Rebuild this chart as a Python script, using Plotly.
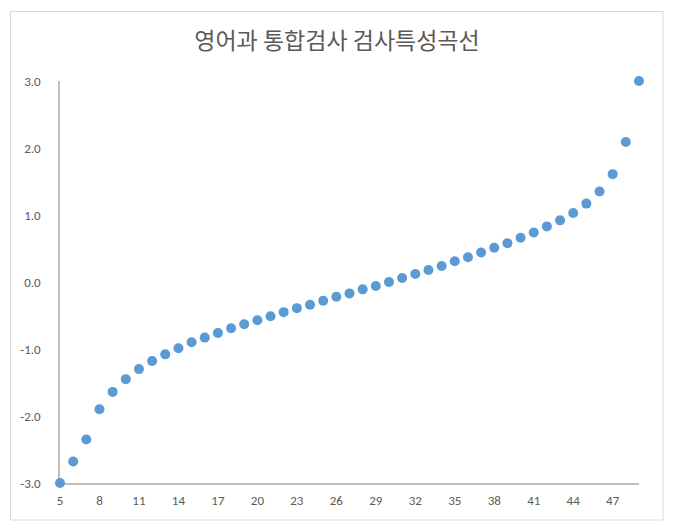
import plotly.graph_objects as go

raw_scores = [5, 6, 7, 8, 9, 10, 11, 12, 13, 14, 15, 16, 17, 18, 19, 20, 21, 22, 23, 24, 25,
              26, 27, 28, 29, 30, 31, 32, 33, 34, 35, 36, 37, 38, 39, 40, 41, 42, 43, 44, 45,
              46, 47, 48, 49]
theta = [-3.00, -2.68, -2.35, -1.90, -1.64, -1.45, -1.30, -1.18, -1.08, -0.99, -0.90,
         -0.83, -0.76, -0.69, -0.63, -0.57, -0.51, -0.45, -0.39, -0.34, -0.28,
         -0.22, -0.17, -0.11, -0.06, 0.00, 0.06, 0.12, 0.18, 0.24, 0.31,
         0.37, 0.44, 0.51, 0.58, 0.66, 0.74, 0.83, 0.92, 1.03, 1.17,
         1.35, 1.61, 2.09, 3.00]
x_ticks = [5, 8, 11, 14, 17, 20, 23, 26, 29, 32, 35, 38, 41, 44, 47]
y_ticks = [-3.0, -2.0, -1.0, 0.0, 1.0, 2.0, 3.0]
title_text = "영어과 통합검사 검사특성곡선"

fig = go.Figure()
fig.add_trace(go.Scatter(
    x=raw_scores, y=theta, mode="markers",
    marker=dict(color="#5B9BD5", size=10, line=dict(width=0)),
    cliponaxis=False, showlegend=False,
))

tick_font = dict(family="Carlito, Calibri, Liberation Sans, sans-serif", size=13, color="#595959")

fig.update_layout(
    width=679, height=530,
    margin=dict(l=60, r=40, t=81, b=47),
    paper_bgcolor="white", plot_bgcolor="white",
    title=dict(text=title_text, x=337 / 679, xref="container", xanchor="center",
               y=1 - 41 / 530, yanchor="middle",
               font=dict(family="Noto Sans CJK KR", size=23, color="#595959")),
    xaxis=dict(range=[5, 49], tickvals=x_ticks, ticktext=[str(v) for v in x_ticks],
               showgrid=False, zeroline=False, showline=True, linecolor="#BFBFBF",
               linewidth=1.5, ticks="", tickfont=tick_font, ticklabelstandoff=5,
               layer="below traces"),
    yaxis=dict(range=[-3, 3], tickvals=y_ticks, ticktext=[f"{v:.1f}" for v in y_ticks],
               showgrid=False, zeroline=False, showline=True, linecolor="#BFBFBF",
               linewidth=1.5, ticks="", tickfont=tick_font, ticklabelstandoff=15,
               layer="below traces"),
    shapes=[dict(type="rect", xref="paper", yref="paper",
                 x0=(10.5 - 60) / 579, x1=(663 - 60) / 579,
                 y0=(483 - 520) / 402, y1=(483 - 11.5) / 402,
                 line=dict(color="#D9D9D9", width=1), fillcolor="rgba(0,0,0,0)",
                 layer="below")],
)

fig.write_html("out.html")
